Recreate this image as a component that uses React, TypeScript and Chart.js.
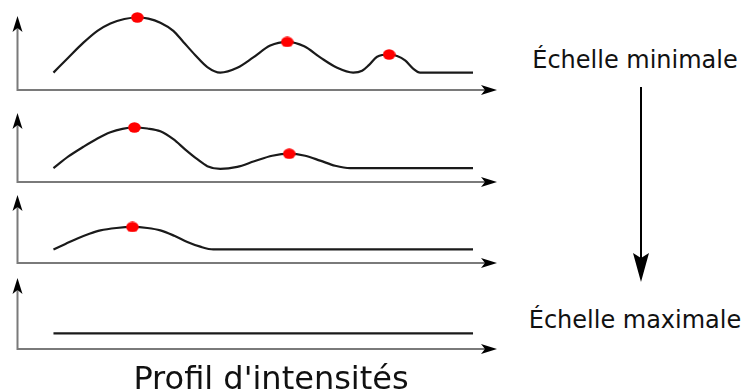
import React, { useEffect, useRef } from "react";
import { Chart, registerables } from "chart.js";

Chart.register(...registerables);

// Position along the profile (0 = vertical axis) and intensity (1 = top of the vertical axis arrow)
const positions1 = [36, 51, 66, 80, 93, 107, 120, 131, 143, 156, 166, 178, 190, 203, 220, 236, 253, 270, 287, 303, 320, 336, 345, 352, 360, 372, 380, 388, 396, 403, 456];
const intensities1 = [0.235, 0.44, 0.64, 0.8, 0.9, 0.96, 0.98, 0.965, 0.91, 0.8, 0.65, 0.47, 0.31, 0.235, 0.3, 0.44, 0.6, 0.65, 0.59, 0.44, 0.3, 0.235, 0.26, 0.34, 0.45, 0.48, 0.46, 0.4, 0.29, 0.235, 0.235];
const peakPositions1 = [120, 270, 372];
const peakIntensities1 = [0.98, 0.65, 0.48];

const positions2 = [36, 51, 66, 80, 93, 105, 117, 130, 143, 156, 168, 180, 190, 203, 220, 237, 255, 272, 288, 303, 318, 333, 456];
const intensities2 = [0.2, 0.37, 0.51, 0.63, 0.72, 0.77, 0.79, 0.775, 0.735, 0.62, 0.47, 0.33, 0.23, 0.19, 0.22, 0.3, 0.38, 0.41, 0.38, 0.31, 0.235, 0.2, 0.2];
const peakPositions2 = [117, 272];
const peakIntensities2 = [0.79, 0.41];

const positions3 = [36, 48, 60, 72, 83, 99, 115, 130, 143, 157, 170, 183, 196, 456];
const intensities3 = [0.2, 0.28, 0.36, 0.43, 0.48, 0.515, 0.53, 0.515, 0.48, 0.4, 0.31, 0.24, 0.2, 0.2];
const peakPositions3 = [115];
const peakIntensities3 = [0.53];

const positions4 = [36, 456];
const intensities4 = [0.22, 0.22];
const peakPositions4: number[] = [];
const peakIntensities4: number[] = [];

const scaleLabels = ["Échelle minimale", "Échelle maximale"];
const xTitle = "Profil d'intensités";

const POS_MAX = 480;

type Panel = {
  positions: number[];
  intensities: number[];
  peakPositions: number[];
  peakIntensities: number[];
  tipY: number;
  axisY: number;
};

const panels: Panel[] = [
  { positions: positions1, intensities: intensities1, peakPositions: peakPositions1, peakIntensities: peakIntensities1, tipY: 12.5, axisY: 89 },
  { positions: positions2, intensities: intensities2, peakPositions: peakPositions2, peakIntensities: peakIntensities2, tipY: 110, axisY: 181.5 },
  { positions: positions3, intensities: intensities3, peakPositions: peakPositions3, peakIntensities: peakIntensities3, tipY: 191.5, axisY: 262.3 },
  { positions: positions4, intensities: intensities4, peakPositions: peakPositions4, peakIntensities: peakIntensities4, tipY: 278, axisY: 348.8 },
];

const CANVAS_W = 520;
const PAD_TOP = 4;
const PAD_BOTTOM = 8;
const AXIS_LEFT = 17.5;
const AXIS_RIGHT = 497;

function drawDart(ctx: CanvasRenderingContext2D, tx: number, ty: number, dx: number, dy: number, len: number, half: number, notch: number) {
  const nx = -dy;
  const ny = dx;
  ctx.beginPath();
  ctx.moveTo(tx, ty);
  ctx.lineTo(tx - len * dx + half * nx, ty - len * dy + half * ny);
  ctx.lineTo(tx - (len - notch) * dx, ty - (len - notch) * dy);
  ctx.lineTo(tx - len * dx - half * nx, ty - len * dy - half * ny);
  ctx.closePath();
  ctx.fill();
}

const axesPlugin = {
  id: "axesArrows",
  beforeDatasetsDraw(chart: any) {
    const { ctx, chartArea } = chart;
    const y0 = chart.scales.y.getPixelForValue(0);
    const yTop = chart.scales.y.getPixelForValue(1);
    const xLeft = chartArea.left;
    const xRight = chartArea.right;
    ctx.save();
    ctx.strokeStyle = "#7a7a7a";
    ctx.lineWidth = 2;
    ctx.beginPath();
    ctx.moveTo(xLeft, yTop + 10);
    ctx.lineTo(xLeft, y0);
    ctx.lineTo(xRight - 10, y0);
    ctx.stroke();
    ctx.fillStyle = "#000";
    drawDart(ctx, xLeft, yTop, 0, -1, 16, 5, 4);
    drawDart(ctx, xRight, y0, 1, 0, 16, 5, 4);
    ctx.restore();
  },
};

function makeDot(): HTMLCanvasElement {
  const c = document.createElement("canvas");
  c.width = 13;
  c.height = 11;
  const g = c.getContext("2d")!;
  g.fillStyle = "#ff0000";
  g.beginPath();
  g.ellipse(6.5, 5.5, 6.3, 5.2, 0, 0, Math.PI * 2);
  g.fill();
  return c;
}

function PanelChart({ panel }: { panel: Panel }) {
  const ref = useRef<HTMLCanvasElement | null>(null);
  const height = panel.axisY - panel.tipY + PAD_TOP + PAD_BOTTOM;
  useEffect(() => {
    if (!ref.current) return;
    const dot = makeDot();
    const chart = new Chart(ref.current, {
      type: "line",
      data: {
        datasets: [
          {
            data: panel.positions.map((p, i) => ({ x: p, y: panel.intensities[i] })),
            borderColor: "#1a1a1a",
            borderWidth: 2.2,
            pointRadius: 0,
            cubicInterpolationMode: "monotone",
            fill: false,
            clip: false as any,
            order: 2,
          },
          {
            type: "scatter",
            data: panel.peakPositions.map((p, i) => ({ x: p, y: panel.peakIntensities[i] })),
            pointStyle: dot,
            pointRadius: 6,
            clip: false as any,
            order: 1,
          } as any,
        ],
      },
      options: {
        responsive: false,
        animation: false,
        events: [],
        layout: {
          padding: {
            left: AXIS_LEFT,
            right: CANVAS_W - AXIS_RIGHT,
            top: PAD_TOP,
            bottom: PAD_BOTTOM,
          },
        },
        plugins: { legend: { display: false }, tooltip: { enabled: false } },
        scales: {
          x: { type: "linear", min: 0, max: POS_MAX, display: false },
          y: { type: "linear", min: 0, max: 1, display: false },
        },
      },
      plugins: [axesPlugin],
    });
    return () => chart.destroy();
  }, [panel]);
  return (
    <canvas
      ref={ref}
      width={CANVAS_W}
      height={Math.round(height)}
      style={{ position: "absolute", left: 0, top: Math.round(panel.tipY - PAD_TOP), width: CANVAS_W, height: Math.round(height) }}
    />
  );
}

export default function App() {
  const font = "'DejaVu Sans', sans-serif";
  return (
    <div style={{ position: "absolute", left: 0, top: 0, width: 743, height: 391, background: "#fff", overflow: "hidden" }}>
      {panels.map((p, i) => (
        <PanelChart key={i} panel={p} />
      ))}
      <div style={{ position: "absolute", left: 525, width: 220, top: 47.5, textAlign: "center", fontFamily: font, fontSize: 24, lineHeight: "24px", color: "#111", whiteSpace: "nowrap" }}>
        {scaleLabels[0]}
      </div>
      <svg width={30} height={200} style={{ position: "absolute", left: 626, top: 85 }}>
        <line x1={15} y1={2} x2={15} y2={180} stroke="#000" strokeWidth={2} />
        <path d="M15,197 L7,168 L15,173 L23,168 Z" fill="#000" />
      </svg>
      <div style={{ position: "absolute", left: 525, width: 220, top: 308, textAlign: "center", fontFamily: font, fontSize: 24, lineHeight: "24px", color: "#111", whiteSpace: "nowrap" }}>
        {scaleLabels[1]}
      </div>
      <div style={{ position: "absolute", left: 0, width: 542, top: 362, textAlign: "center", fontFamily: font, fontSize: 32, lineHeight: "32px", color: "#111", whiteSpace: "nowrap" }}>
        {xTitle}
      </div>
    </div>
  );
}
